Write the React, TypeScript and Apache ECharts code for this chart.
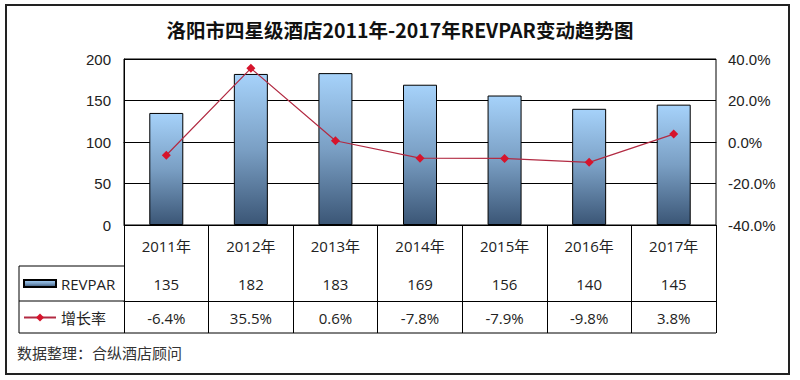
import React, { useEffect, useRef } from "react";
import * as echarts from "echarts";

const categories = ["2011年", "2012年", "2013年", "2014年", "2015年", "2016年", "2017年"];
const revpar = [135, 182, 183, 169, 156, 140, 145];
const growth = [-6.4, 35.5, 0.6, -7.8, -7.9, -9.8, 3.8];
const titleText = "洛阳市四星级酒店2011年-2017年REVPAR变动趋势图";
const sourceText = "数据整理：合纵酒店顾问";
const seriesNames = ["REVPAR", "增长率"];

const tableFont = "'Open Sans', 'Noto Sans CJK SC', sans-serif";
const axisFont = "'Liberation Sans', Arial, sans-serif";

export default function App() {
  const ref = useRef<HTMLDivElement>(null);
  useEffect(() => {
    if (!ref.current) return;
    const chart = echarts.init(ref.current, null, { renderer: "svg" });
    const barGradient = new echarts.graphic.LinearGradient(0, 0, 0, 1, [
      { offset: 0, color: "#a6d2fa" },
      { offset: 0.5, color: "#7a9fc4" },
      { offset: 1, color: "#3b5676" },
    ]);
    const lineStroke = { color: "#000", width: 1 };
    chart.setOption({
      animation: false,
      backgroundColor: "#fff",
      title: {
        text: titleText,
        left: "center",
        top: 15,
        textStyle: {
          fontSize: 19.5,
          fontWeight: "bold",
          color: "#111",
          fontFamily: "'Noto Sans CJK SC', sans-serif",
        },
      },
      legend: [
        {
          data: [{ name: seriesNames[0], icon: "rect" }],
          left: 23,
          top: 276,
          padding: 0,
          itemWidth: 32,
          itemHeight: 7,
          textStyle: { fontSize: 15, color: "#222", fontFamily: tableFont },
        },
        {
          data: [seriesNames[1]],
          left: 23,
          top: 310,
          padding: 0,
          itemWidth: 32,
          itemHeight: 10,
          textStyle: { fontSize: 15, color: "#222", fontFamily: tableFont },
        },
      ],
      grid: {
        left: 124,
        right: 84,
        top: 59,
        bottom: 155,
        show: true,
        borderColor: "#000",
        borderWidth: 1,
        backgroundColor: "transparent",
      },
      xAxis: [
        {
          type: "category",
          data: categories,
          position: "bottom",
          axisLine: { show: true, lineStyle: lineStroke },
          axisTick: { show: true, length: 108, interval: 0, lineStyle: lineStroke },
          axisLabel: { margin: 13, fontSize: 15, color: "#222", fontFamily: tableFont, interval: 0 },
          splitLine: { show: false },
        },
        {
          type: "category",
          data: revpar.map((v) => String(v)),
          position: "bottom",
          offset: 41,
          axisLine: { show: true, lineStyle: lineStroke },
          axisTick: { show: false },
          axisLabel: { margin: 10, fontSize: 15, color: "#222", fontFamily: tableFont, interval: 0 },
          splitLine: { show: false },
        },
        {
          type: "category",
          data: growth.map((v) => v.toFixed(1) + "%"),
          position: "bottom",
          offset: 76,
          axisLine: { show: true, lineStyle: lineStroke },
          axisTick: { show: false },
          axisLabel: { margin: 9, fontSize: 15, color: "#222", fontFamily: tableFont, interval: 0 },
          splitLine: { show: false },
        },
      ],
      yAxis: [
        {
          type: "value",
          min: 0,
          max: 200,
          interval: 50,
          axisLine: { show: true, lineStyle: lineStroke },
          axisTick: { show: false },
          axisLabel: { margin: 13, fontSize: 15, color: "#222", fontFamily: axisFont },
          splitLine: { show: true, lineStyle: lineStroke },
        },
        {
          type: "value",
          min: -40,
          max: 40,
          interval: 20,
          position: "right",
          axisLine: { show: false },
          axisTick: { show: false },
          axisLabel: {
            margin: 12,
            fontSize: 15,
            color: "#222",
            fontFamily: axisFont,
            formatter: (v: number) => v.toFixed(1) + "%",
          },
          splitLine: { show: false },
        },
      ],
      series: [
        {
          name: seriesNames[0],
          type: "bar",
          xAxisIndex: 0,
          yAxisIndex: 0,
          data: revpar,
          barWidth: 34,
          itemStyle: { color: barGradient, borderColor: "#000", borderWidth: 1 },
        },
        {
          name: seriesNames[1],
          type: "line",
          xAxisIndex: 0,
          yAxisIndex: 1,
          data: growth,
          symbol: "diamond",
          symbolSize: 9,
          lineStyle: { color: "#b22a42", width: 1.2 },
          itemStyle: { color: "#d6142c" },
        },
      ],
      graphic: [
        {
          type: "rect",
          shape: { x: 6, y: 5, width: 783, height: 369 },
          style: { fill: "none", stroke: "#222", lineWidth: 2 },
        },
        { type: "line", shape: { x1: 19, y1: 266, x2: 124, y2: 266 }, style: { stroke: "#000", lineWidth: 1 } },
        { type: "line", shape: { x1: 19, y1: 301, x2: 124, y2: 301 }, style: { stroke: "#000", lineWidth: 1 } },
        { type: "line", shape: { x1: 19, y1: 333, x2: 716, y2: 333 }, style: { stroke: "#000", lineWidth: 1 } },
        { type: "line", shape: { x1: 19, y1: 266, x2: 19, y2: 333 }, style: { stroke: "#000", lineWidth: 1 } },
        {
          type: "text",
          x: 17,
          y: 352,
          style: {
            text: sourceText,
            fontSize: 15,
            fill: "#333",
            fontFamily: "'Noto Sans CJK SC', sans-serif",
            verticalAlign: "middle",
          },
        },
      ],
    });
    return () => chart.dispose();
  }, []);
  return <div ref={ref} style={{ position: "fixed", left: 0, top: 0, width: 800, height: 380 }} />;
}
